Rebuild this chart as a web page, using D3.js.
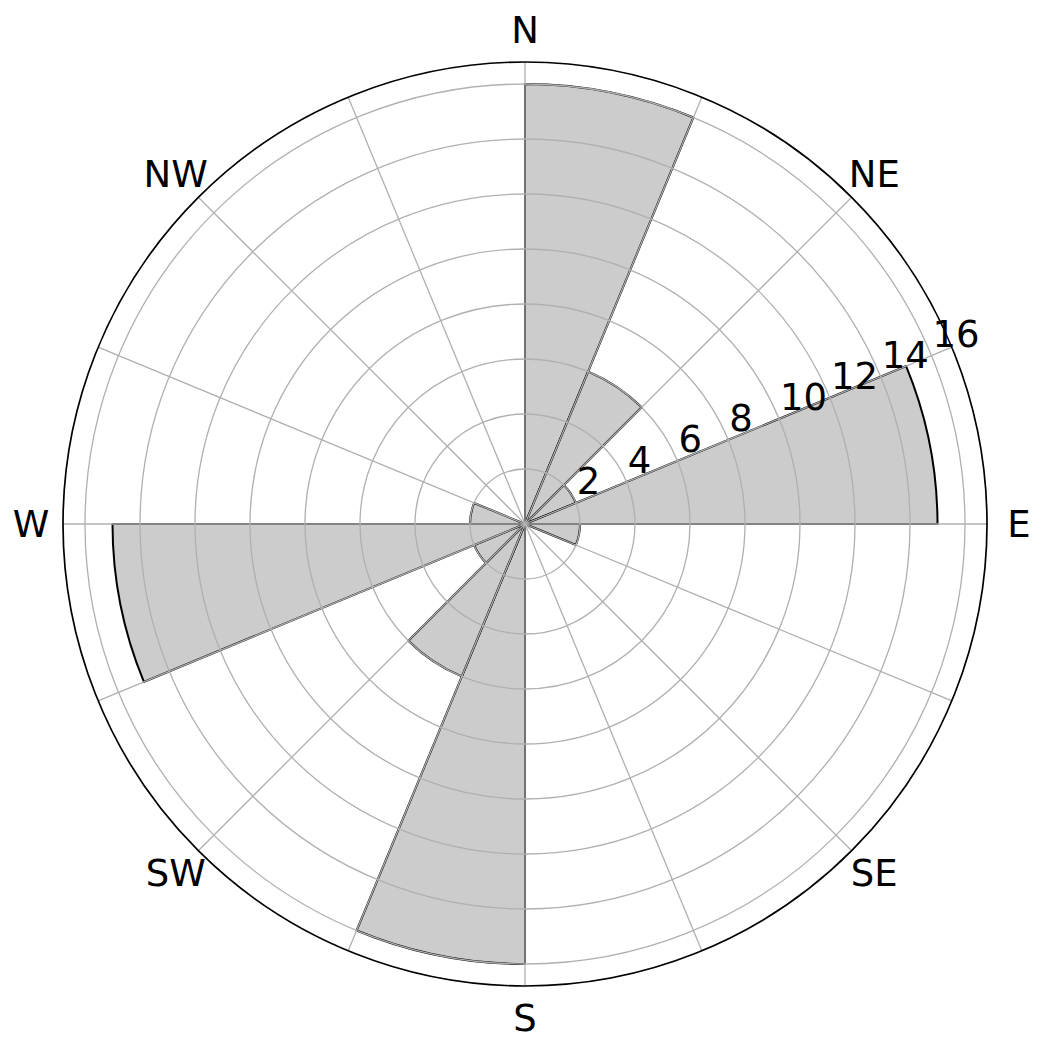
<!DOCTYPE html>
<html>
<head>
<meta charset="utf-8">
<script src="https://cdn.jsdelivr.net/npm/d3@7"></script>
<style>
  html, body { margin: 0; padding: 0; background: #ffffff; }
  svg { display: block; }
  text { font-family: "DejaVu Sans", sans-serif; fill: #000; }
</style>
</head>
<body>
<svg id="chart" width="1042" height="1048"></svg>
<script>
// ---- data ----
const sectors = ["N","NNE","NE","ENE","E","ESE","SE","SSE","S","SSW","SW","WSW","W","WNW","NW","NNW"];
const values  = [16, 6, 2, 15, 2, 0, 0, 0, 16, 6, 2, 15, 2, 0, 0, 0];
const angleLabels = ["N","NE","E","SE","S","SW","W","NW"];
const radialTicks = [2, 4, 6, 8, 10, 12, 14, 16];
const rMax = 16.8;

// ---- layout ----
const width = 1042, height = 1048;
const cx = 525, cy = 524, R = 462;
const svg = d3.select("#chart");
const g = svg.append("g").attr("transform", `translate(${cx},${cy})`);

const r = d3.scaleLinear().domain([0, rMax]).range([0, R]);
const sectorAngle = d3.scaleBand().domain(sectors).range([0, 2 * Math.PI]).paddingInner(0).paddingOuter(0);

// bars (edge aligned: start at direction, span one sector clockwise)
const arc = d3.arc()
  .innerRadius(0)
  .outerRadius(d => r(d.v))
  .startAngle(d => sectorAngle(d.s))
  .endAngle(d => sectorAngle(d.s) + sectorAngle.bandwidth());

const barData = sectors.map((s, i) => ({ s, v: values[i] })).filter(d => d.v > 0);
g.append("g").selectAll("path")
  .data(barData)
  .join("path")
  .attr("d", arc)
  .attr("fill", "#cccccc")
  .attr("stroke", "#000")
  .attr("stroke-width", 2)
  .attr("stroke-linejoin", "miter");

// grid: circles
const grid = g.append("g").attr("fill", "none").attr("stroke", "#b0b0b0").attr("stroke-width", 1.3);
grid.selectAll("circle")
  .data(radialTicks)
  .join("circle")
  .attr("r", d => r(d));

// grid: radial spokes
grid.selectAll("line")
  .data(sectors)
  .join("line")
  .attr("x1", 0).attr("y1", 0)
  .attr("x2", d => R * Math.sin(sectorAngle(d)))
  .attr("y2", d => -R * Math.cos(sectorAngle(d)));

// outer frame
g.append("circle").attr("r", R).attr("fill", "none").attr("stroke", "#000").attr("stroke-width", 1.7);

// angular labels
const labelAngle = d3.scaleBand().domain(angleLabels).range([0, 2 * Math.PI]);
g.append("g").selectAll("text")
  .data(angleLabels)
  .join("text")
  .attr("x", d => (R + 32) * Math.sin(labelAngle(d)))
  .attr("y", d => -(R + 32) * Math.cos(labelAngle(d)))
  .attr("text-anchor", "middle")
  .attr("dominant-baseline", "central")
  .attr("font-size", 37)
  .text(d => d);

// radial tick labels along 67.5 deg
const rl = 67.5 * Math.PI / 180;
g.append("g").selectAll("text")
  .data(radialTicks)
  .join("text")
  .attr("x", d => r(d) * Math.sin(rl) + 1)
  .attr("y", d => -r(d) * Math.cos(rl) - 9)
  .attr("text-anchor", "start")
  .attr("font-size", 37)
  .text(d => d);
</script>
</body>
</html>
